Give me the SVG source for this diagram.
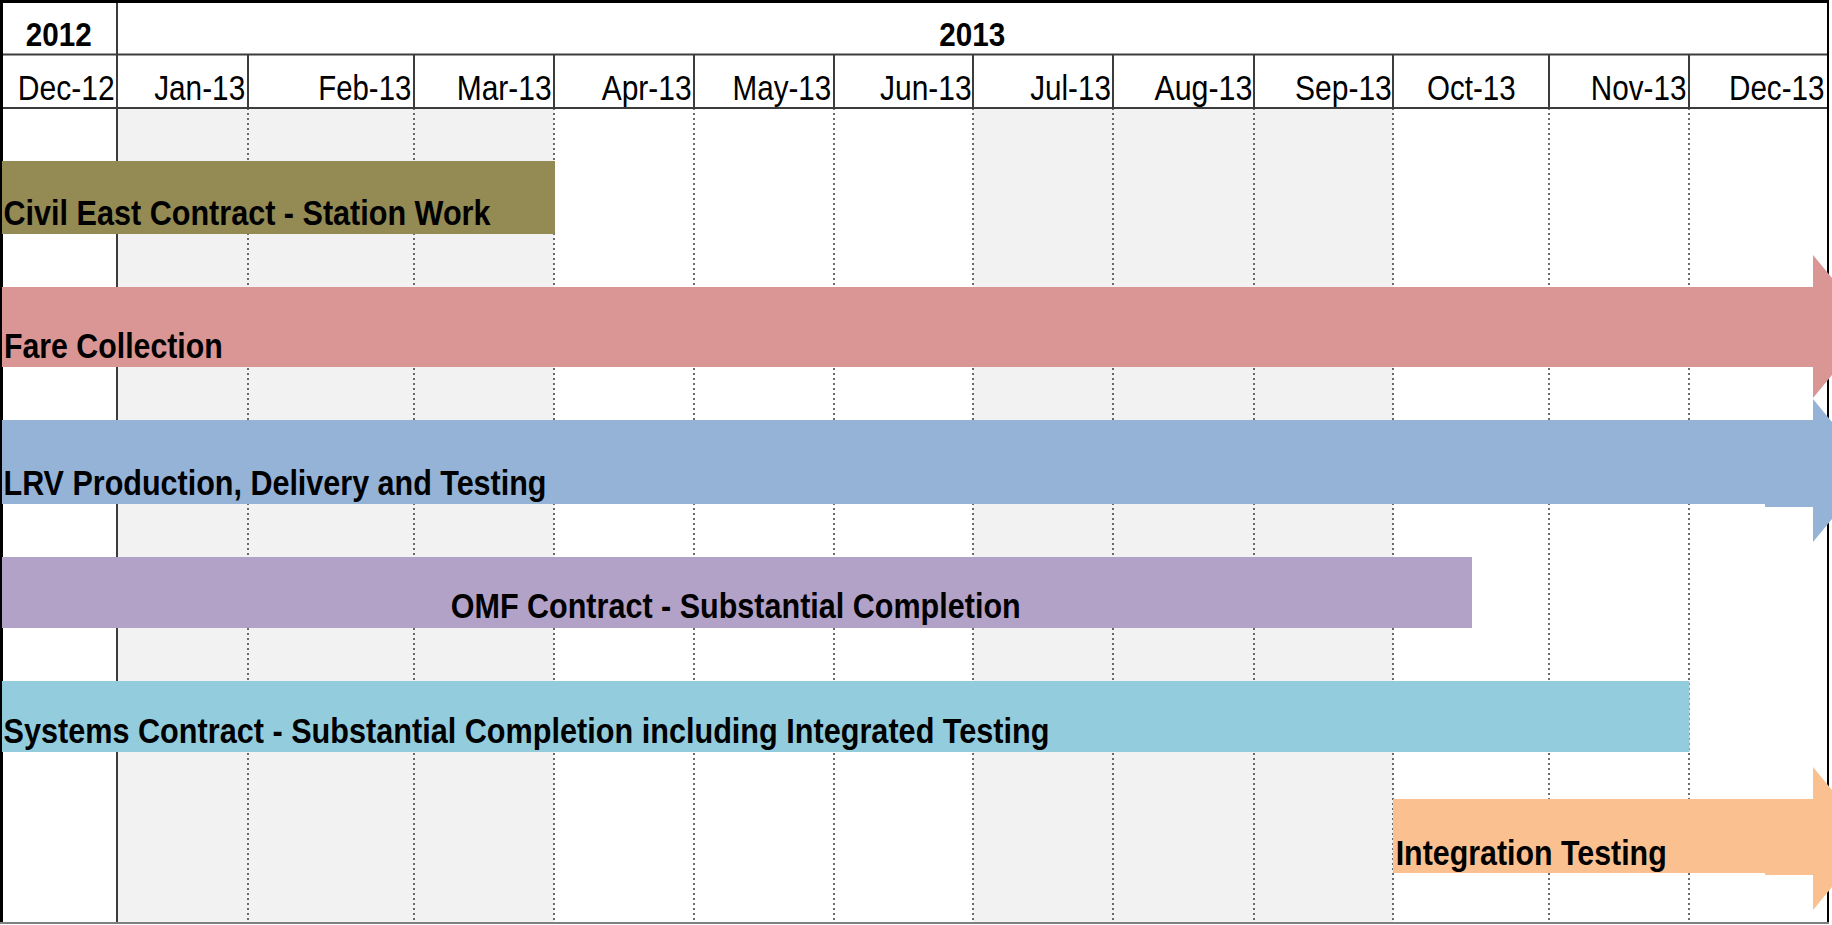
<svg xmlns="http://www.w3.org/2000/svg" width="1832" height="925" viewBox="0 0 1832 925">
<style>
.hdr{font-family:"Liberation Sans",Arial,sans-serif;font-size:35px;fill:#000}
.yr{font-family:"Liberation Sans",Arial,sans-serif;font-size:34px;font-weight:bold;fill:#000}
.lbl{font-family:"Liberation Sans",Arial,sans-serif;font-size:35px;font-weight:bold;fill:#000}
.solid{stroke:#3c3c3c;stroke-width:2;fill:none}
.dot{stroke:#3c3c3c;stroke-width:1.5;stroke-dasharray:2,3;fill:none}
.shade{fill:#f2f2f2}
</style>
<rect x="0" y="0" width="1832" height="925" fill="#ffffff"/>
<g id="grid">
  <rect class="shade" x="117" y="108" width="437" height="815"/>
  <rect class="shade" x="973" y="108" width="420" height="815"/>
  <path class="solid" d="M0,54.5H1828M0,108H1828"/>
  <path class="solid" d="M117,0V923"/>
  <path class="solid" d="M248,54V108M414,54V108M554,54V108M694,54V108M834,54V108M973,54V108M1113,54V108M1254,54V108M1393,54V108M1549,54V108M1689,54V108"/>
  <path class="dot" d="M248,108V922M414,108V922M554,108V922M694,108V922M834,108V922M973,108V922M1113,108V922M1254,108V922M1393,108V922M1549,108V922M1689,108V922"/>
  <path d="M1.5,0V923" stroke="#000" stroke-width="3"/>
  <path d="M0,1.5H1829" stroke="#000" stroke-width="3"/>
  <path d="M1828,0V923" stroke="#000" stroke-width="2"/>
  <path d="M0,923H1829" stroke="#808080" stroke-width="2"/>
</g>
<g id="header">
  <text class="yr" x="58.7" y="46" text-anchor="middle" textLength="66" lengthAdjust="spacingAndGlyphs">2012</text>
  <text class="yr" x="972.3" y="46" text-anchor="middle" textLength="66" lengthAdjust="spacingAndGlyphs">2013</text>
  <text class="hdr" x="17.8" y="100" textLength="97" lengthAdjust="spacingAndGlyphs">Dec-12</text>
  <text class="hdr" x="154.2" y="100" textLength="91" lengthAdjust="spacingAndGlyphs">Jan-13</text>
  <text class="hdr" x="318.3" y="100" textLength="93" lengthAdjust="spacingAndGlyphs">Feb-13</text>
  <text class="hdr" x="456.7" y="100" textLength="95" lengthAdjust="spacingAndGlyphs">Mar-13</text>
  <text class="hdr" x="601.7" y="100" textLength="90" lengthAdjust="spacingAndGlyphs">Apr-13</text>
  <text class="hdr" x="732.5" y="100" textLength="98.8" lengthAdjust="spacingAndGlyphs">May-13</text>
  <text class="hdr" x="880" y="100" textLength="91.7" lengthAdjust="spacingAndGlyphs">Jun-13</text>
  <text class="hdr" x="1030.2" y="100" textLength="80.7" lengthAdjust="spacingAndGlyphs">Jul-13</text>
  <text class="hdr" x="1154.4" y="100" textLength="98" lengthAdjust="spacingAndGlyphs">Aug-13</text>
  <text class="hdr" x="1295" y="100" textLength="96.8" lengthAdjust="spacingAndGlyphs">Sep-13</text>
  <text class="hdr" x="1427" y="100" textLength="88.6" lengthAdjust="spacingAndGlyphs">Oct-13</text>
  <text class="hdr" x="1590.8" y="100" textLength="95.6" lengthAdjust="spacingAndGlyphs">Nov-13</text>
  <text class="hdr" x="1729" y="100" textLength="95.5" lengthAdjust="spacingAndGlyphs">Dec-13</text>
</g>
<g id="civil-east">
  <rect x="2" y="161" width="553" height="73" fill="#948a54"/>
  <text class="lbl" x="3.5" y="225" textLength="487" lengthAdjust="spacingAndGlyphs">Civil East Contract - Station Work</text>
</g>
<g id="fare-collection">
  <path d="M2,287H1813V255L1872,326.5L1813,398V367H2Z" fill="#d99694"/>
  <text class="lbl" x="4" y="357.7" textLength="218.7" lengthAdjust="spacingAndGlyphs">Fare Collection</text>
</g>
<g id="lrv">
  <path d="M2,420H1813V399L1872,470.5L1813,542V507H1765V504H2Z" fill="#95b3d7"/>
  <text class="lbl" x="3.5" y="495" textLength="543" lengthAdjust="spacingAndGlyphs">LRV Production, Delivery and Testing</text>
</g>
<g id="omf">
  <rect x="2" y="557" width="1470" height="71" fill="#b3a2c7"/>
  <text class="lbl" x="450.7" y="618.3" textLength="570" lengthAdjust="spacingAndGlyphs">OMF Contract - Substantial Completion</text>
</g>
<g id="systems">
  <rect x="2" y="681" width="1687.5" height="71" fill="#93cddd"/>
  <text class="lbl" x="3.5" y="743" textLength="1046" lengthAdjust="spacingAndGlyphs">Systems Contract - Substantial Completion including Integrated Testing</text>
</g>
<g id="integration-testing">
  <path d="M1393,799H1813V767L1872,838.5L1813,910V875H1765V873H1393Z" fill="#fac090"/>
  <text class="lbl" x="1395.7" y="865" textLength="271" lengthAdjust="spacingAndGlyphs">Integration Testing</text>
</g>
</svg>
